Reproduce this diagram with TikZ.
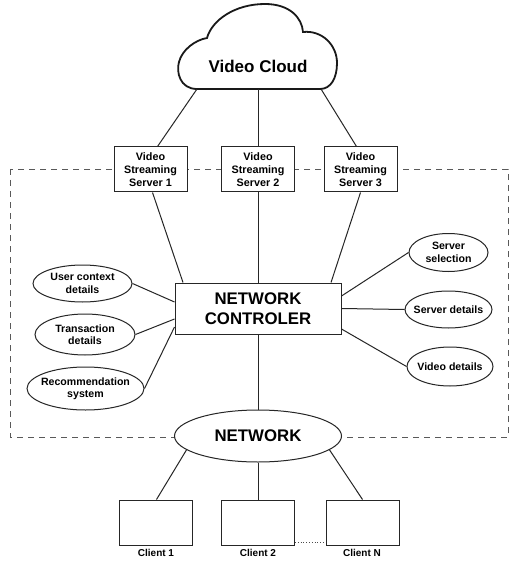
\documentclass[tikz,border=0pt]{standalone}
\usepackage{fontspec}
\setmainfont{Liberation Sans}
\usetikzlibrary{shapes.geometric}
\begin{document}
\begin{tikzpicture}[x=1pt,y=-1pt,
  line/.style={draw=black!85,line width=1pt},
  box/.style={draw=black!85,line width=1pt,fill=white,rectangle,inner sep=0pt,align=center,
    font=\bfseries\fontsize{10.8}{13}\selectfont},
  ell/.style={draw=black!85,line width=1pt,fill=white,ellipse,inner sep=-6pt,align=center,
    font=\bfseries\fontsize{10.6}{12.3}\selectfont},
  big/.style={font=\bfseries\fontsize{16.8}{20}\selectfont},
  lbl/.style={font=\bfseries\fontsize{10}{12}\selectfont,inner sep=0pt}]
\useasboundingbox (0,0) rectangle (511,561);
\fill[white] (0,0) rectangle (511,561);

% controller domain boundary
\draw[black!65,line width=0.9pt,dash pattern=on 6pt off 5pt] (10,169) rectangle (508,437);

% cloud outline
\draw[black!90,line width=1.8pt,fill=white]
  (197,89) .. controls (180,89) and (176,72) .. (179,62)
  .. controls (182,50) and (195,40) .. (207,38)
  .. controls (212,20) and (235,4) .. (265,4)
  .. controls (290,4) and (302,18) .. (303,32)
  .. controls (322,30) and (337,45) .. (337,63)
  .. controls (337,78) and (331,89) .. (320,89)
  -- cycle;
\node[font=\bfseries\fontsize{17}{20}\selectfont] (cloud) at (258,66) {Video Cloud};
\coordinate (cl1) at (197,89);
\coordinate (cl2) at (258,89);
\coordinate (cl3) at (321,89);

% streaming servers
\node[box,minimum width=73pt,minimum height=45pt] (s1) at (150.5,169.5) {Video\\Streaming\\Server 1};
\node[box,minimum width=73pt,minimum height=45pt] (s2) at (258,169.5) {Video\\Streaming\\Server 2};
\node[box,minimum width=73pt,minimum height=45pt] (s3) at (360.5,169.5) {Video\\Streaming\\Server 3};

% controller
\node[box,big,minimum width=166pt,minimum height=51pt] (ctrl) at (258,308.5) {NETWORK\\CONTROLER};

% information sources
\node[ell,minimum width=99pt,minimum height=37pt] (user) at (82.5,283.5) {User context\\details};
\node[ell,minimum width=100pt,minimum height=41pt] (trans) at (85,334.5) {Transaction\\details};
\node[ell,minimum width=117pt,minimum height=43pt] (rec) at (85.5,388.5) {Recommendation\\system};
\node[ell,minimum width=79pt,minimum height=38pt] (sel) at (448.5,252.5) {Server\\selection};
\node[ell,minimum width=87pt,minimum height=37pt] (srv) at (448.5,309.5) {Server details};
\node[ell,minimum width=86pt,minimum height=39pt] (vid) at (450,366.5) {Video details};

% network
\node[ell,big,minimum width=167pt,minimum height=52pt] (net) at (258,436) {NETWORK};

% clients
\node[box,minimum width=73pt,minimum height=45pt] (c1) at (155.5,522.5) {};
\node[box,minimum width=73pt,minimum height=45pt] (c2) at (258,522.5) {};
\node[box,minimum width=73pt,minimum height=45pt] (cN) at (362.5,522.5) {};
\node[lbl] (l1) at (156,553) {Client 1};
\node[lbl] (l2) at (258,553) {Client 2};
\node[lbl] (lN) at (362,553) {Client N};

% connectors
\draw[line] (cl1) -- ([xshift=7pt]s1.north);
\draw[line] (cl2) -- (s2.north);
\draw[line] (cl3) -- ([xshift=-4pt]s3.north);
\draw[line] ([xshift=2pt]s1.south) -- ([xshift=-75pt]ctrl.north);
\draw[line] (s2.south) -- (ctrl.north);
\draw[line] (s3.south) -- ([xshift=73pt]ctrl.north);
\draw[line] (user.east) -- ([yshift=6.5pt]ctrl.west);
\draw[line] (trans.east) -- ([yshift=-10.5pt]ctrl.west);
\draw[line] (rec.east) -- ([yshift=-18.5pt]ctrl.west);
\draw[line] (sel.west) -- ([yshift=12.5pt]ctrl.east);
\draw[line] (srv.west) -- (ctrl.east);
\draw[line] (vid.west) -- ([yshift=-20.5pt]ctrl.east);
\draw[line] (ctrl.south) -- (net.north);
\draw[line] (net.191) -- ([xshift=1pt]c1.north);
\draw[line] (net.south) -- (c2.north);
\draw[line] (net.349) -- (cN.north);
\draw[black!70,line width=0.8pt,dotted] ([yshift=3pt]c2.south east) -- ([yshift=3pt]cN.south west);
\end{tikzpicture}
\end{document}
